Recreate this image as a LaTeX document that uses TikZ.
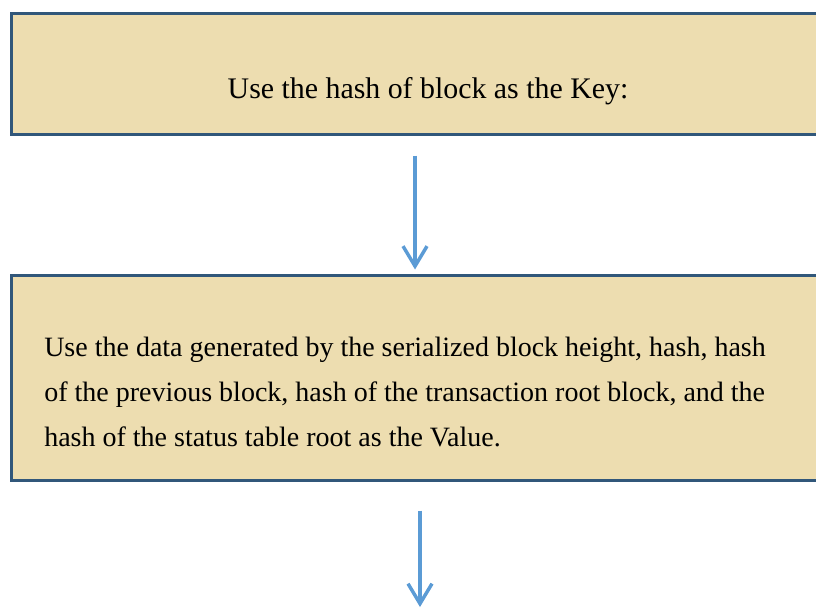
\documentclass[tikz,border=0pt]{standalone}
\usepackage{fontspec}
\setmainfont{Liberation Serif}
\usetikzlibrary{arrows.meta}
\usetikzlibrary{positioning}
\definecolor{boxfill}{RGB}{237,221,176}
\definecolor{boxline}{RGB}{49,87,122}
\definecolor{flowblue}{RGB}{91,155,213}
\tikzset{>={Straight Barb[length=15pt,width=18pt,line width=2.6pt]}, font=\fontsize{22.4}{33.4}\selectfont}
\tikzstyle{stepbox} = [draw=boxline, fill=boxfill, line width=2.25pt, rectangle, minimum width=625.5pt, inner sep=0pt]
\tikzstyle{steptext} = [inner sep=0pt, align=left]
\tikzstyle{flow} = [->, draw=flowblue, line width=2.8pt]

\begin{document}
\begin{tikzpicture}[x=0.75pt,y=-0.75pt]
		\useasboundingbox (0,0) rectangle (816,608);
		\clip (0,0) rectangle (816,608);
		\node [stepbox, minimum height=90.75pt] (keybox) at (428,73.5) {};
		\node [steptext] (keytext) at (428,91) {Use the hash of block as the Key:};
		\node [stepbox, minimum height=153.75pt] (valuebox) at (428,377.5) {};
		\node [steptext, anchor=west, font=\fontsize{21}{33.4}\selectfont] (valuetext) at (44,392) {Use the data generated by the serialized block height, hash, hash\\of the previous block, hash of the transaction root block, and the\\hash of the status table root as the Value.};
		\coordinate (next) at (420,607);

		\draw [flow] ([xshift=-9.75pt,yshift=-15pt]keybox.south) -- ([xshift=-9.75pt,yshift=3pt]valuebox.north);
		\draw [flow] ([xshift=-6pt,yshift=-21.75pt]valuebox.south) -- (next);
	\end{tikzpicture}
\end{document}
